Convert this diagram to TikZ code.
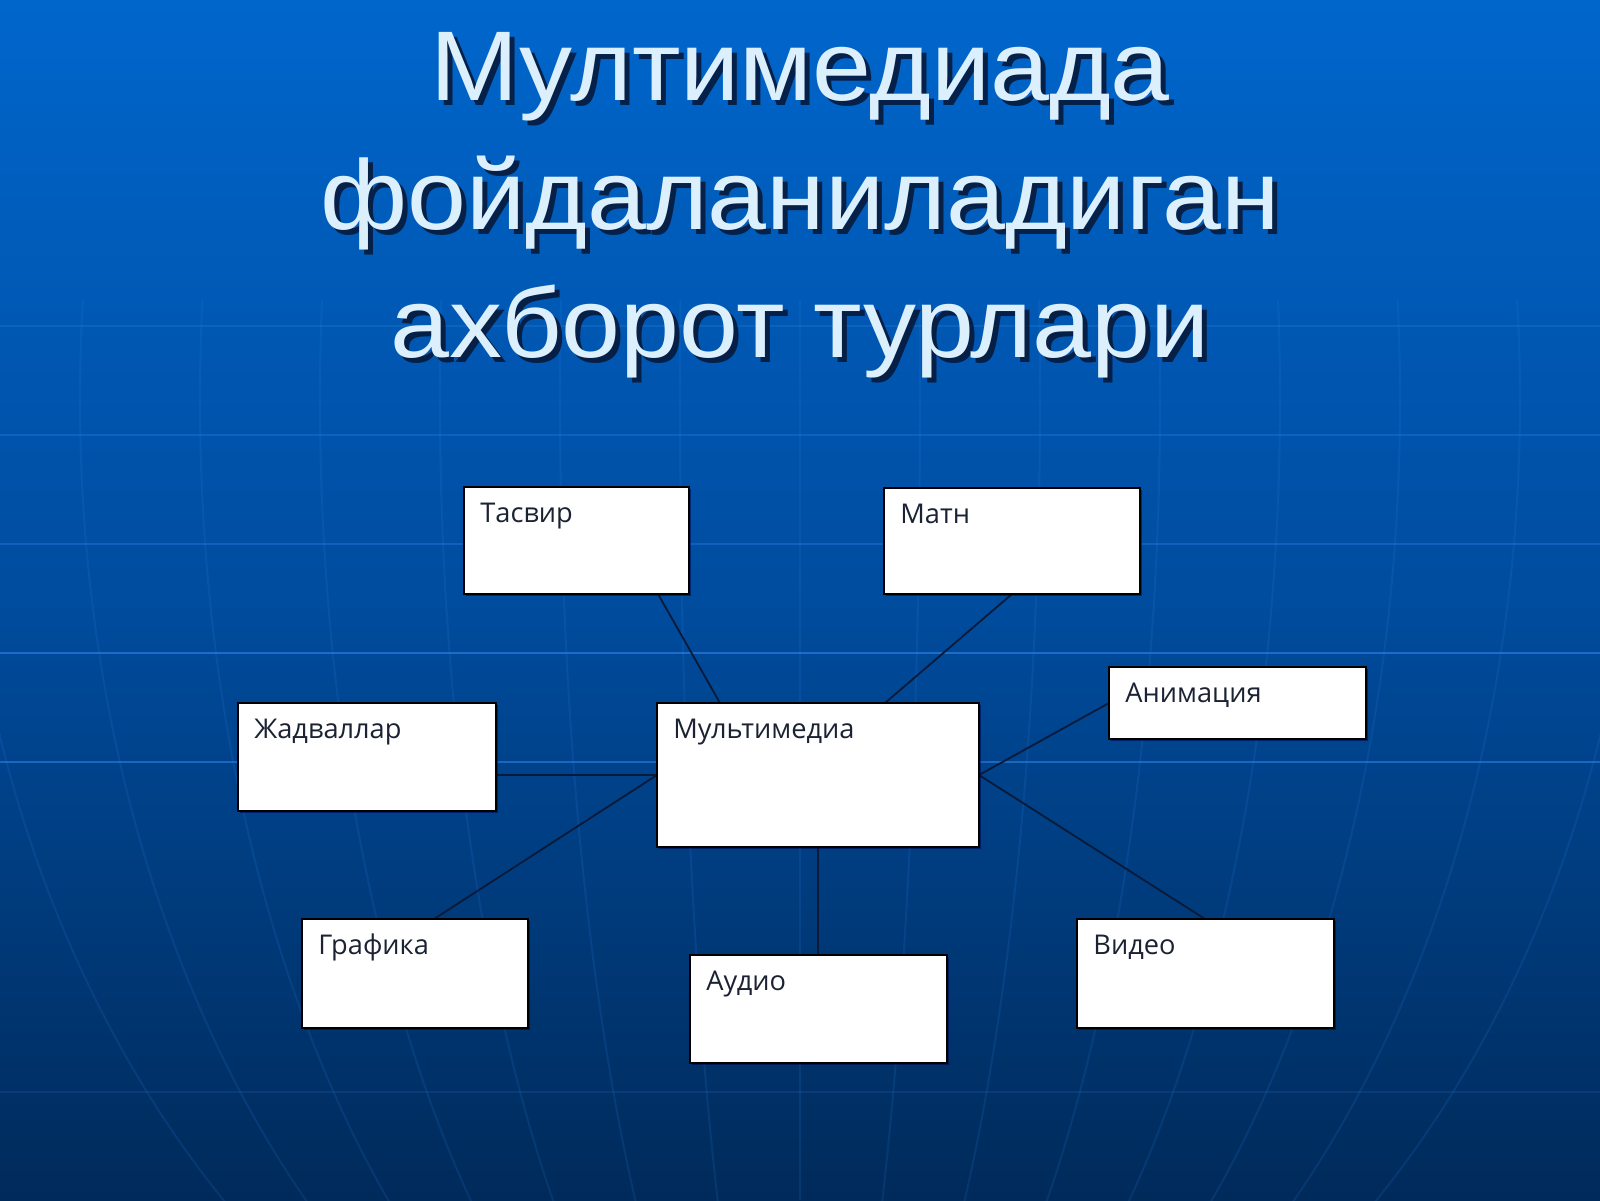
\documentclass[tikz,border=0pt]{standalone}
\usepackage{fontspec}
\setmainfont{Liberation Sans}
\newfontfamily\lblfont{Open Sans}
\usetikzlibrary{calc}
\definecolor{bgtop}{HTML}{0066CC}
\definecolor{bgmid}{HTML}{004C9E}
\definecolor{bgbot}{HTML}{002A5A}
\definecolor{gridc}{HTML}{2F86EA}
\definecolor{titlec}{HTML}{DCEFFD}
\definecolor{shadowc}{HTML}{081634}
\definecolor{linkc}{HTML}{0A1A38}
\definecolor{lblc}{HTML}{1B2233}
\tikzset{
  boxst/.style={draw=black, line width=0.8pt, fill=white, inner sep=0pt, outer sep=0pt},
  boxshadow/.style={fill=black!70!blue, opacity=0.5},
  lbl/.style={font=\lblfont\fontsize{13.6}{16}\selectfont, text=lblc, inner sep=0pt},
  titlest/.style={font=\fontsize{49.5}{60}\selectfont, text=titlec, inner sep=0pt, anchor=base, xscale=1.07},
  shadowst/.style={font=\fontsize{49.5}{60}\selectfont, text=shadowc, inner sep=0pt, anchor=base, opacity=0.85, xscale=1.07},
  link/.style={draw=linkc, line width=0.9pt},
  hgrid/.style={draw=gridc, line width=1.4pt, opacity=0.45},
  mgrid/.style={draw=gridc, line width=1pt, opacity=0.14}
}
\newcommand\infobox[6]{%
  \fill[boxshadow] (#2+2,#3+2) rectangle ++(#4,#5);
  \node[boxst, minimum width=#4*0.5pt, minimum height=#5*0.5pt, anchor=north west] (#1) at (#2,#3) {};
  \node[lbl, anchor=base west] (#1-t) at ([xshift=8pt,yshift=-17.5pt]#1.north west) {#6};
}
\begin{document}
\begin{tikzpicture}[x=0.5pt, y=-0.5pt]
\useasboundingbox (0,0) rectangle (1600,1200);
% background
\shade[top color=bgtop, bottom color=bgbot, middle color=bgmid] (0,0) rectangle (1600,1200);
% grid lines
\foreach \yy/\op in {326/0.25, 435/0.3, 544/0.35, 653/0.6, 762/0.55, 1092/0.15}
  \draw[hgrid, opacity=\op] (0,\yy) -- (1600,\yy);
\begin{scope}
  \clip (0,300) rectangle (1600,1200);
  \foreach \aa in {120,240,360,480,600,720,840}
    \draw[mgrid] (800,400) ellipse [x radius=\aa, y radius=1100];
  \draw[mgrid] (800,300) -- (800,1200);
\end{scope}
% title
\foreach \tt/\yy in {{Мултимедиада}/100, {фойдаланиладиган}/229, {ахборот турлари}/357}{
  \node[shadowst] at (805,\yy+5) {\tt};
}
\node[titlest] (t1) at (800,100) {Мултимедиада};
\node[titlest] (t2) at (800,229) {фойдаланиладиган};
\node[titlest] (t3) at (800,357) {ахборот турлари};
% connectors (drawn below boxes)
\coordinate (tasB) at (658,594);
\coordinate (mmT1) at (720,703);
\coordinate (matB) at (1012,594);
\coordinate (mmT2) at (885,703);
\coordinate (mmL) at (657,775);
\coordinate (mmR) at (979,775);
\coordinate (mmB) at (818,847);
\coordinate (anL) at (1109,703);
\coordinate (viT) at (1205,919);
\coordinate (grT) at (434,919);
\coordinate (jaR) at (496,775);
\coordinate (auT) at (818,955);
\draw[link] (tasB) -- (mmT1);
\draw[link] (matB) -- (mmT2);
\draw[link] (anL) -- (mmR);
\draw[link] (viT) -- (mmR);
\draw[link] (grT) -- (mmL);
\draw[link] (jaR) -- (mmL);
\draw[link] (auT) -- (mmB);
% boxes
\infobox{tasvir}{464}{487}{225}{107}{Тасвир}
\infobox{matn}{884}{488}{256}{106}{Матн}
\infobox{anim}{1109}{667}{257}{72}{Анимация}
\infobox{jadv}{238}{703}{258}{108}{Жадваллар}
\infobox{mm}{657}{703}{322}{144}{Мультимедиа}
\infobox{graf}{302}{919}{226}{109}{Графика}
\infobox{audio}{690}{955}{257}{108}{Аудио}
\infobox{video}{1077}{919}{257}{109}{Видео}
\end{tikzpicture}
\end{document}
